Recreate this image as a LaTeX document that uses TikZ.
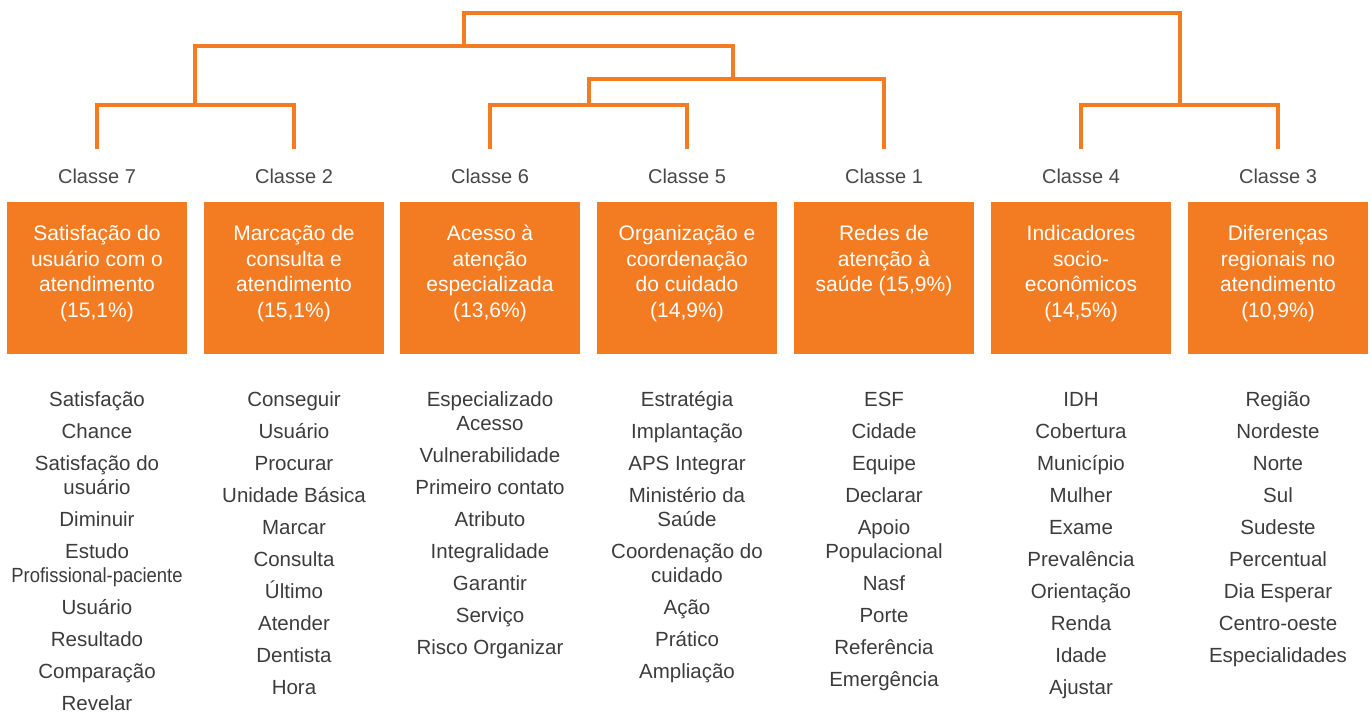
\documentclass[tikz,border=0pt]{standalone}
\usepackage{fontspec}
\setmainfont{Liberation Sans}
\usepackage{graphicx}
\definecolor{orng}{RGB}{243,123,33}
\definecolor{txtgray}{RGB}{60,60,60}
\definecolor{lblgray}{RGB}{72,72,72}
\begin{document}
\begin{tikzpicture}[x=1pt,y=-1pt,
  tree/.style={draw=orng, line width=3.2pt, line join=miter},
  classbox/.style={fill=orng, draw=none, minimum width=180pt, minimum height=152pt, inner sep=0pt, anchor=north},
  boxtext/.style={text=white, align=center, anchor=north, inner sep=0pt, font=\fontsize{21}{25.8}\selectfont},
  classlabel/.style={text=lblgray, anchor=base, inner sep=0pt, font=\fontsize{20}{24}\selectfont},
  wordlist/.style={text=txtgray, align=center, anchor=north, inner sep=0pt, font=\fontsize{20.5}{24}\selectfont}]
\useasboundingbox (0,0) rectangle (1372,715);

% leaf ends of the dendrogram
\coordinate (l7) at (97,149);
\coordinate (l2) at (294,149);
\coordinate (l6) at (490,149);
\coordinate (l5) at (687,149);
\coordinate (l1) at (884,149);
\coordinate (l4) at (1081,149);
\coordinate (l3) at (1278,149);
% junctions
\coordinate (a72) at (195,105);
\coordinate (a65) at (589,105);
\coordinate (a43) at (1180,105);
\coordinate (c651) at (733,79);
\coordinate (b) at (464,46);
\coordinate (top) at (820,13);

\draw[tree] (l7) |- (a72) -| (l2);
\draw[tree] (l6) |- (a65) -| (l5);
\draw[tree] (l4) |- (a43) -| (l3);
\draw[tree] (a65) |- (c651) -| (l1);
\draw[tree] (a72) |- (b) -| (c651);
\draw[tree] (b) |- (top) -| (a43);

% class labels
\node[classlabel] (k7) at (97,183) {Classe 7};
\node[classlabel] (k2) at (294,183) {Classe 2};
\node[classlabel] (k6) at (490,183) {Classe 6};
\node[classlabel] (k5) at (687,183) {Classe 5};
\node[classlabel] (k1) at (884,183) {Classe 1};
\node[classlabel] (k4) at (1081,183) {Classe 4};
\node[classlabel] (k3) at (1278,183) {Classe 3};

% boxes
\node[classbox] (b7) at (97,202) {};
\node[classbox] (b2) at (294,202) {};
\node[classbox] (b6) at (490,202) {};
\node[classbox] (b5) at (687,202) {};
\node[classbox] (b1) at (884,202) {};
\node[classbox] (b4) at (1081,202) {};
\node[classbox] (b3) at (1278,202) {};

\node[boxtext] (t7) at (97,222) {\strut Satisfação do\\usuário com o\\atendimento\\(15,1\%)};
\node[boxtext] (t2) at (294,222) {\strut Marcação de\\consulta e\\atendimento\\(15,1\%)};
\node[boxtext] (t6) at (490,222) {\strut Acesso à\\atenção\\especializada\\(13,6\%)};
\node[boxtext] (t5) at (687,222) {\strut Organização e\\coordenação\\do cuidado\\(14,9\%)};
\node[boxtext] (t1) at (884,222) {\strut Redes de\\atenção à\\saúde (15,9\%)};
\node[boxtext] (t4) at (1081,222) {\strut Indicadores\\socio-\\econômicos\\(14,5\%)};
\node[boxtext] (t3) at (1278,222) {\strut Diferenças\\regionais no\\atendimento\\(10,9\%)};

% word lists
\node[wordlist] (w7) at (97,389) {\strut Satisfação\\[8pt]Chance\\[8pt]Satisfação do\\usuário\\[8pt]Diminuir\\[8pt]Estudo\\\scalebox{0.9}[1]{Profissional-paciente}\\[8pt]Usuário\\[8pt]Resultado\\[8pt]Comparação\\[8pt]Revelar};
\node[wordlist] (w2) at (294,389) {\strut Conseguir\\[8pt]Usuário\\[8pt]Procurar\\[8pt]Unidade Básica\\[8pt]Marcar\\[8pt]Consulta\\[8pt]Último\\[8pt]Atender\\[8pt]Dentista\\[8pt]Hora};
\node[wordlist] (w6) at (490,389) {\strut Especializado\\Acesso\\[8pt]Vulnerabilidade\\[8pt]Primeiro contato\\[8pt]Atributo\\[8pt]Integralidade\\[8pt]Garantir\\[8pt]Serviço\\[8pt]Risco Organizar};
\node[wordlist] (w5) at (687,389) {\strut Estratégia\\[8pt]Implantação\\[8pt]APS Integrar\\[8pt]Ministério da\\Saúde\\[8pt]Coordenação do\\cuidado\\[8pt]Ação\\[8pt]Prático\\[8pt]Ampliação};
\node[wordlist] (w1) at (884,389) {\strut ESF\\[8pt]Cidade\\[8pt]Equipe\\[8pt]Declarar\\[8pt]Apoio\\Populacional\\[8pt]Nasf\\[8pt]Porte\\[8pt]Referência\\[8pt]Emergência};
\node[wordlist] (w4) at (1081,389) {\strut IDH\\[8pt]Cobertura\\[8pt]Município\\[8pt]Mulher\\[8pt]Exame\\[8pt]Prevalência\\[8pt]Orientação\\[8pt]Renda\\[8pt]Idade\\[8pt]Ajustar};
\node[wordlist] (w3) at (1278,389) {\strut Região\\[8pt]Nordeste\\[8pt]Norte\\[8pt]Sul\\[8pt]Sudeste\\[8pt]Percentual\\[8pt]Dia Esperar\\[8pt]Centro-oeste\\[8pt]Especialidades};
\end{tikzpicture}
\end{document}
